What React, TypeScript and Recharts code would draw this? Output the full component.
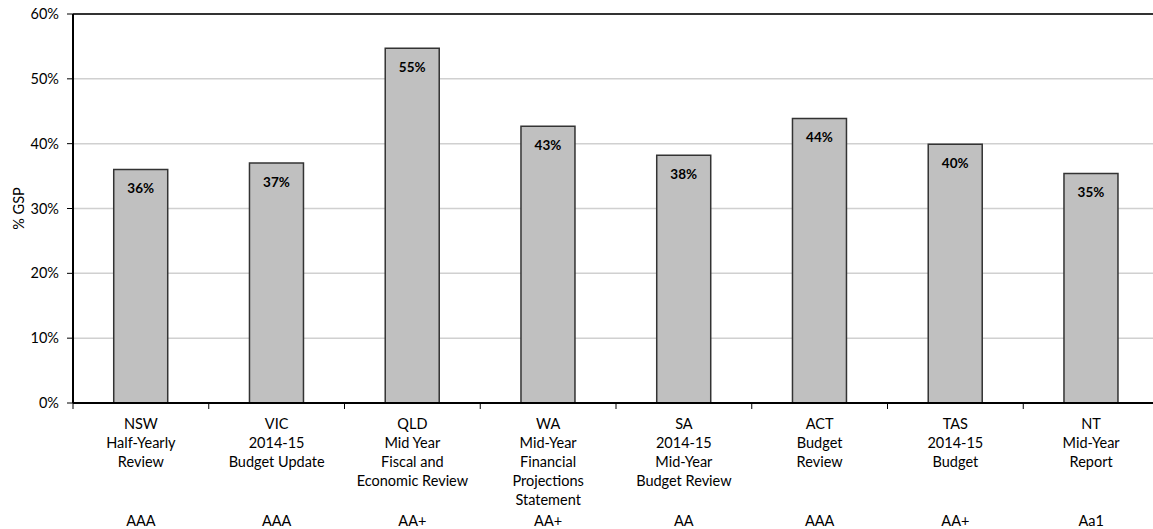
import React from "react";
import { BarChart, Bar, XAxis, YAxis, CartesianGrid, ReferenceLine, LabelList } from "recharts";

const states = ["NSW", "VIC", "QLD", "WA", "SA", "ACT", "TAS", "NT"];
const docs = [
    ["Half-Yearly", "Review"],
    ["2014-15", "Budget Update"],
    ["Mid Year", "Fiscal and", "Economic Review"],
    ["Mid-Year", "Financial", "Projections", "Statement"],
    ["2014-15", "Mid-Year", "Budget Review"],
    ["Budget", "Review"],
    ["2014-15", "Budget"],
    ["Mid-Year", "Report"],
];
const ratings = ["AAA", "AAA", "AA+", "AA+", "AA", "AAA", "AA+", "Aa1"];
const debtPct = [36.0, 37.0, 54.7, 42.7, 38.2, 43.9, 39.9, 35.4];
const yTicks = [0, 10, 20, 30, 40, 50, 60];

const data = states.map((s, i) => ({ state: s, value: debtPct[i], idx: i }));

const FONT = "Lato, 'Open Sans', sans-serif";

// category label block + rating, plus tick mark between categories
function CategoryTick(props: any) {
    const { x, y, payload } = props;
    const i = payload.index;
    const half = payload.offset || 0;
    const lines = [states[i], ...docs[i]];
    const top = y - 8; // axis line
    return (
        <g>
            <line x1={x - half} x2={x - half} y1={top} y2={top + 6} stroke="#000" strokeWidth={1} />
            <text textAnchor="middle" fontFamily={FONT} fontSize={14.5} fill="#000">
                {lines.map((l, k) => (
                    <tspan key={k} x={x} y={top + 26 + k * 19}>
                        {l}
                    </tspan>
                ))}
                <tspan x={x} y={top + 123}>
                    {ratings[i]}
                </tspan>
            </text>
        </g>
    );
}

export default function App() {
    return (
        <div style={{ position: "absolute", left: 0, top: 0, width: 1153, height: 529, overflow: "hidden", background: "#fff" }}>
            <BarChart
                width={1159}
                height={529}
                data={data}
                margin={{ top: 14, right: 0, left: 0, bottom: 0 }}
                barCategoryGap="30%"
            >
                <CartesianGrid vertical={false} stroke="#d0d0d0" strokeWidth={1.5} />
                <XAxis
                    dataKey="state"
                    height={126}
                    axisLine={{ stroke: "#000", strokeWidth: 2 }}
                    tickLine={false}
                    interval={0}
                    tick={<CategoryTick />}
                />
                <YAxis
                    width={73}
                    domain={[0, 60]}
                    ticks={yTicks}
                    tickFormatter={(v: number) => `${v}%`}
                    axisLine={{ stroke: "#000", strokeWidth: 2 }}
                    tickLine={{ stroke: "#000" }}
                    tickSize={6}
                    tickMargin={8}
                    tick={{ fontFamily: FONT, fontSize: 14.5, fill: "#000" }}
                    label={{ value: "% GSP", angle: -90, position: "insideLeft", offset: 19, style: { fontFamily: FONT, fontSize: 14.5, fill: "#000", textAnchor: "middle" } }}
                />
                <ReferenceLine y={60} stroke="#333" strokeWidth={2} />
                <Bar dataKey="value" fill="#c0c0c0" stroke="#333" strokeWidth={1.5} isAnimationActive={false}>
                    <LabelList
                        dataKey="value"
                        position="insideTop"
                        offset={14}
                        formatter={(v: any) => `${Math.round(v)}%`}
                        style={{ fontFamily: FONT, fontSize: 13.5, fontWeight: 700, fill: "#000" }}
                    />
                </Bar>
            </BarChart>
        </div>
    );
}
